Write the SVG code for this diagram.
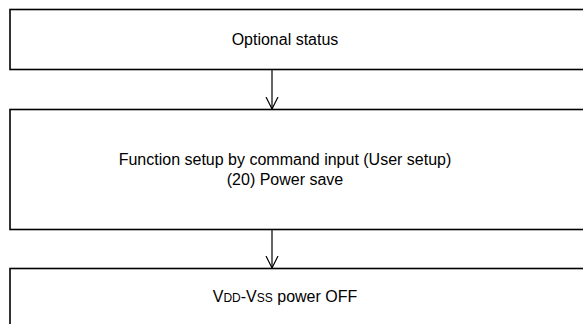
<svg xmlns="http://www.w3.org/2000/svg" width="583" height="324" viewBox="0 0 583 324">
<style>
.box{fill:#fff;stroke:#000;stroke-width:1.6}
.t{font-family:"Liberation Sans",Arial,sans-serif;font-size:16px;fill:#000;text-anchor:middle}
.c{stroke:#000;stroke-width:1.2;fill:none}
</style>
<defs>
<marker id="ah" markerWidth="14" markerHeight="14" refX="12" refY="6" orient="auto" markerUnits="userSpaceOnUse" viewBox="0 0 14 12">
<path d="M0,0 L12,6 L0,12" fill="none" stroke="#000" stroke-width="1.2"/>
</marker>
</defs>
<rect width="583" height="324" fill="#fff"/>
<g id="node1"><rect class="box" x="10" y="9.5" width="600" height="60"/><text class="t" x="285" y="45">Optional status</text></g>
<g id="node2"><rect class="box" x="10" y="109.5" width="600" height="120"/><text class="t" x="285" y="165">Function setup by command input (User setup)</text><text class="t" x="285" y="185">(20) Power save</text></g>
<g id="node3"><rect class="box" x="10" y="268.5" width="600" height="80"/><text class="t" x="285" y="302">V<tspan font-size="12">DD</tspan>-V<tspan font-size="12">SS</tspan> power OFF</text></g>
<g id="connectors">
<line class="c" x1="272" y1="69.5" x2="272" y2="109" marker-end="url(#ah)"/>
<line class="c" x1="272" y1="229.5" x2="272" y2="268" marker-end="url(#ah)"/>
</g>
</svg>
